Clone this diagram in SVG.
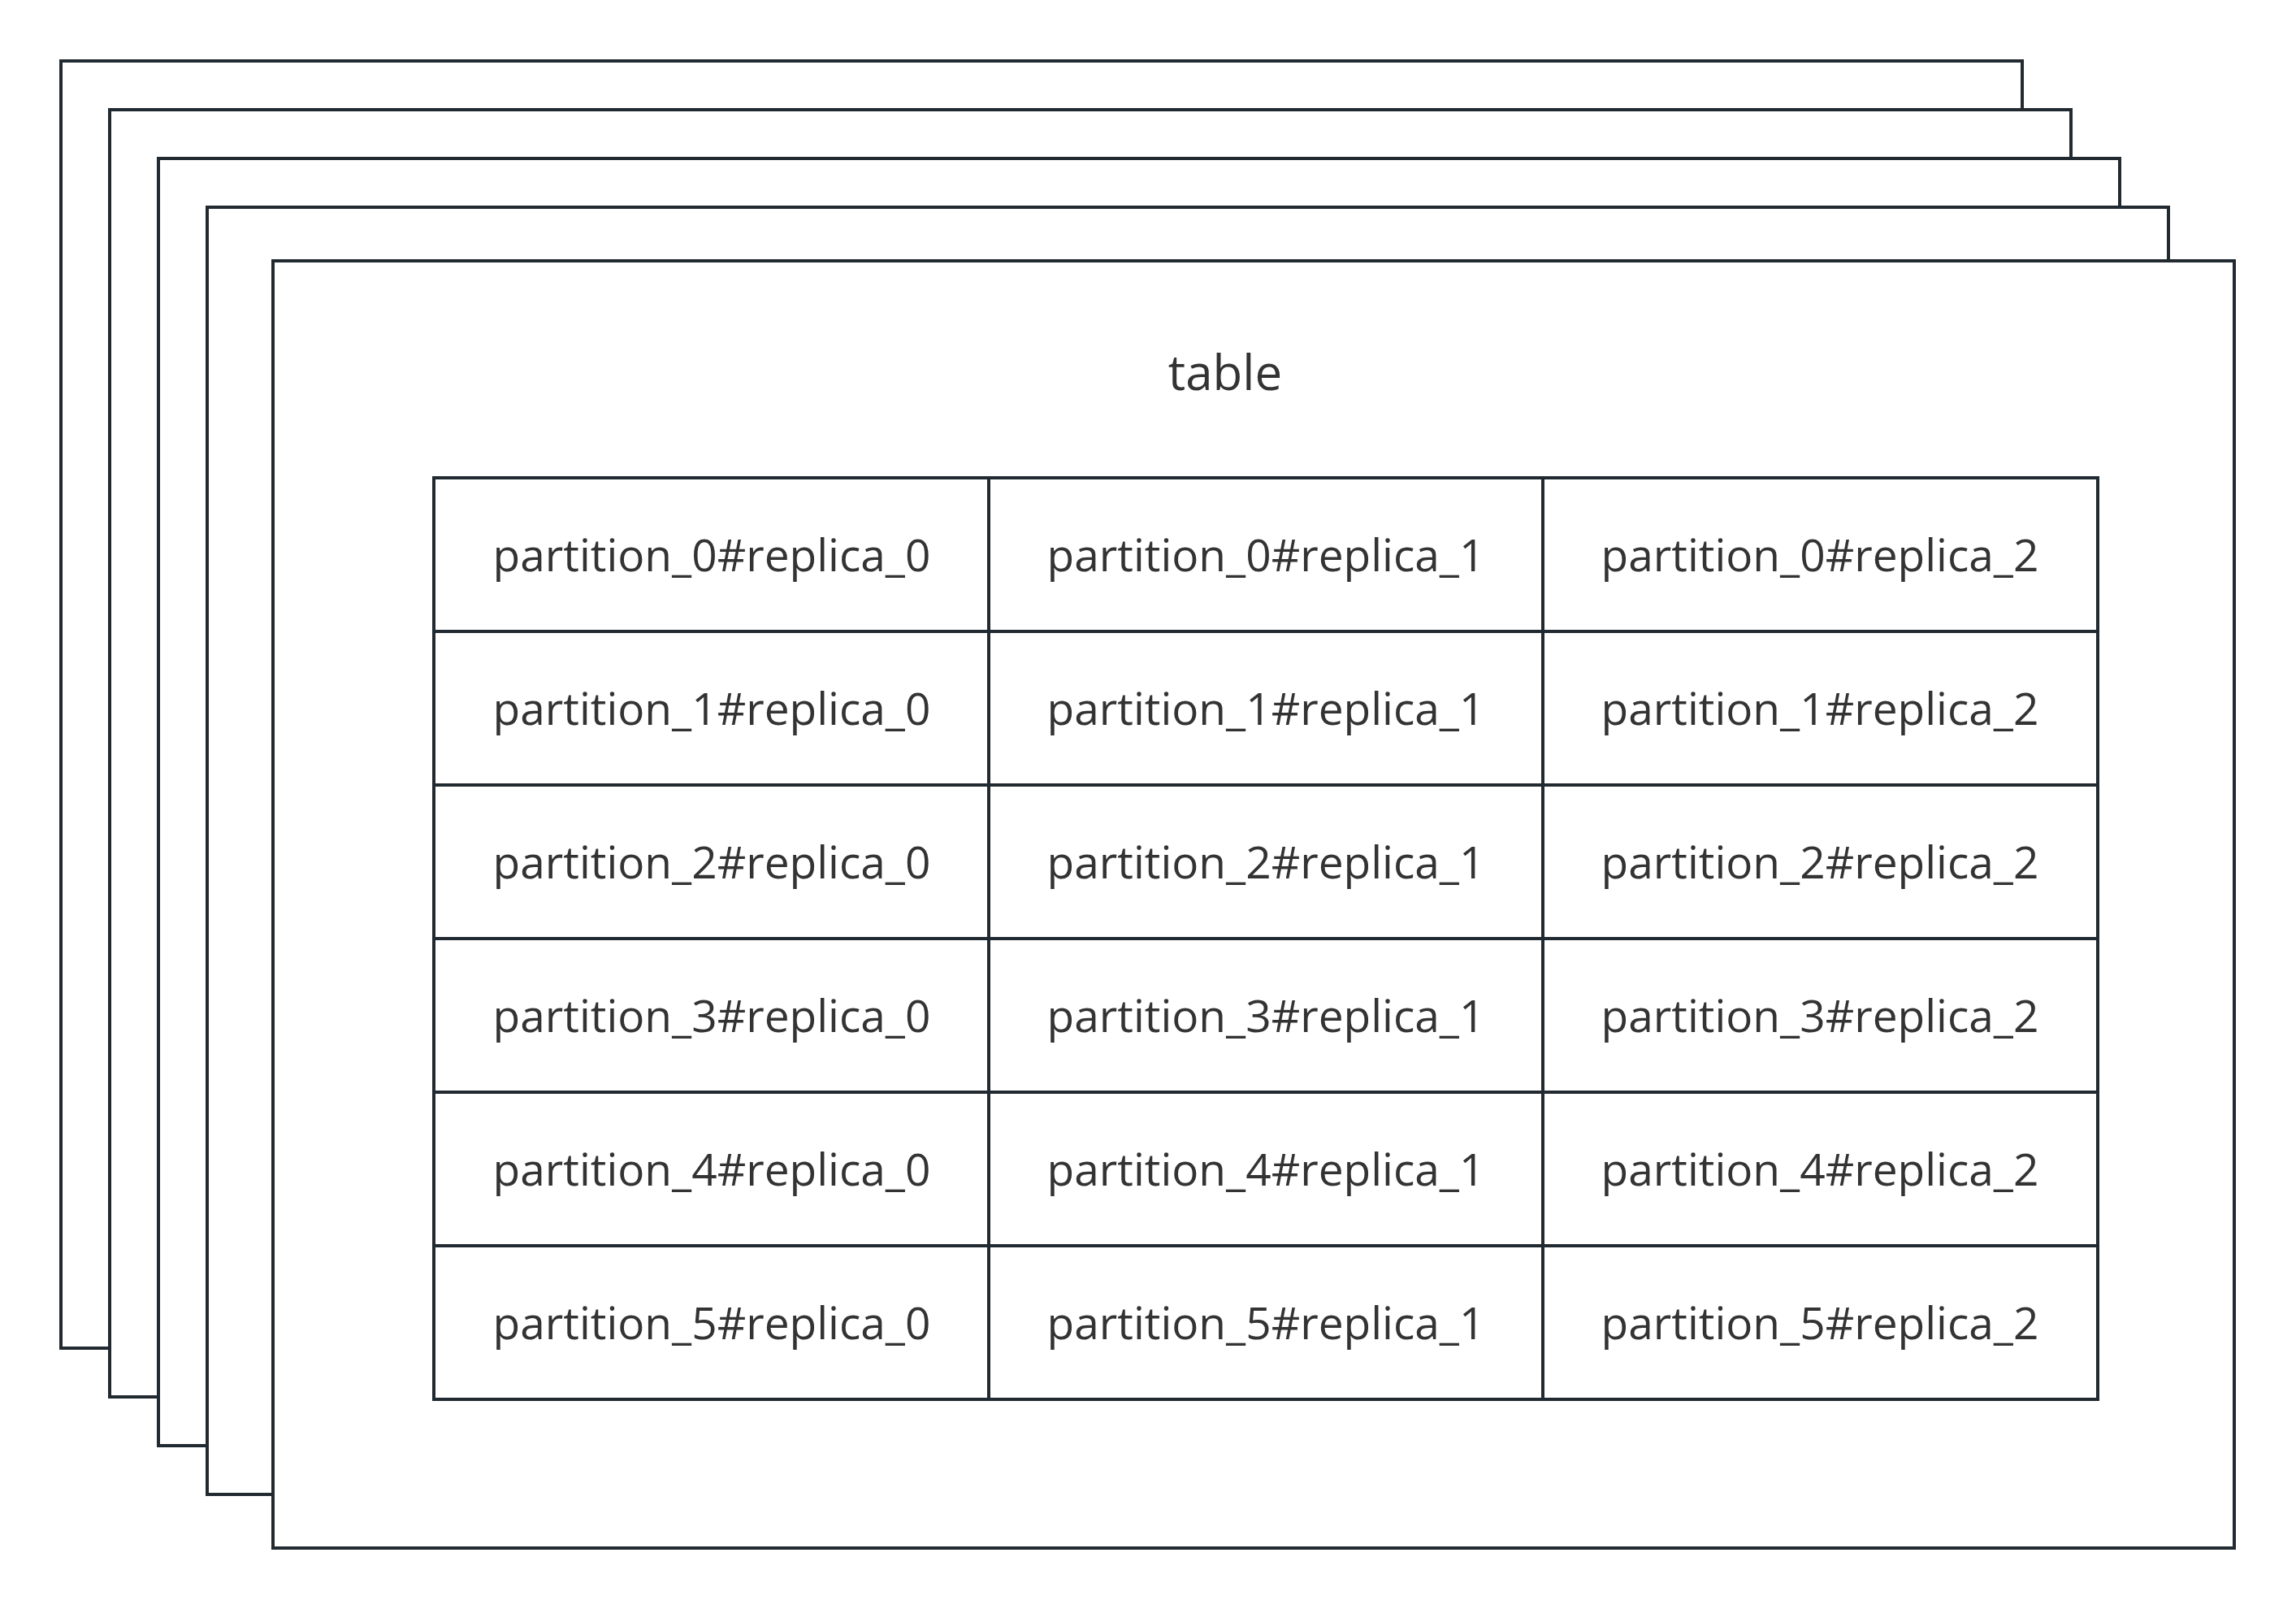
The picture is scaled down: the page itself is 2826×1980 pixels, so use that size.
<svg xmlns="http://www.w3.org/2000/svg" width="2826" height="1980" viewBox="0 0 2826 1980">
<style>
.sheet{fill:#ffffff;stroke:#222a31;stroke-width:4}
.grid{fill:none;stroke:#222a31;stroke-width:4}
.cell{font-family:"Open Sans","Noto Sans","Liberation Sans",sans-serif;font-size:55px;fill:#333333;text-anchor:middle}
.title{font-family:"Open Sans","Noto Sans","Liberation Sans",sans-serif;font-size:60px;fill:#333333;text-anchor:middle}
</style>
<rect width="2826" height="1980" fill="#ffffff"/>
<g id="sheet1"><rect class="sheet" x="75" y="75" width="2414" height="1584"/></g>
<g id="sheet2"><rect class="sheet" x="135" y="135" width="2414" height="1584"/></g>
<g id="sheet3"><rect class="sheet" x="195" y="195" width="2414" height="1584"/></g>
<g id="sheet4"><rect class="sheet" x="255" y="255" width="2414" height="1584"/></g>
<g id="table">
<rect class="sheet" x="336" y="321" width="2414" height="1584"/>
<text class="title" x="1508" y="480">table</text>
</g>
<g id="grid">
<rect class="grid" x="534" y="588" width="2048" height="1134"/>
<path class="grid" d="M1217 588V1722M1899 588V1722M534 777H2582M534 966H2582M534 1155H2582M534 1344H2582M534 1533H2582"/>
</g>
<g id="cells">
<g id="r0"><text class="cell" x="876" y="703">partition_0#replica_0</text><text class="cell" x="1558" y="703">partition_0#replica_1</text><text class="cell" x="2240" y="703">partition_0#replica_2</text></g>
<g id="r1"><text class="cell" x="876" y="892">partition_1#replica_0</text><text class="cell" x="1558" y="892">partition_1#replica_1</text><text class="cell" x="2240" y="892">partition_1#replica_2</text></g>
<g id="r2"><text class="cell" x="876" y="1081">partition_2#replica_0</text><text class="cell" x="1558" y="1081">partition_2#replica_1</text><text class="cell" x="2240" y="1081">partition_2#replica_2</text></g>
<g id="r3"><text class="cell" x="876" y="1270">partition_3#replica_0</text><text class="cell" x="1558" y="1270">partition_3#replica_1</text><text class="cell" x="2240" y="1270">partition_3#replica_2</text></g>
<g id="r4"><text class="cell" x="876" y="1459">partition_4#replica_0</text><text class="cell" x="1558" y="1459">partition_4#replica_1</text><text class="cell" x="2240" y="1459">partition_4#replica_2</text></g>
<g id="r5"><text class="cell" x="876" y="1648">partition_5#replica_0</text><text class="cell" x="1558" y="1648">partition_5#replica_1</text><text class="cell" x="2240" y="1648">partition_5#replica_2</text></g>
</g>
<g id="connectors"></g>
</svg>
